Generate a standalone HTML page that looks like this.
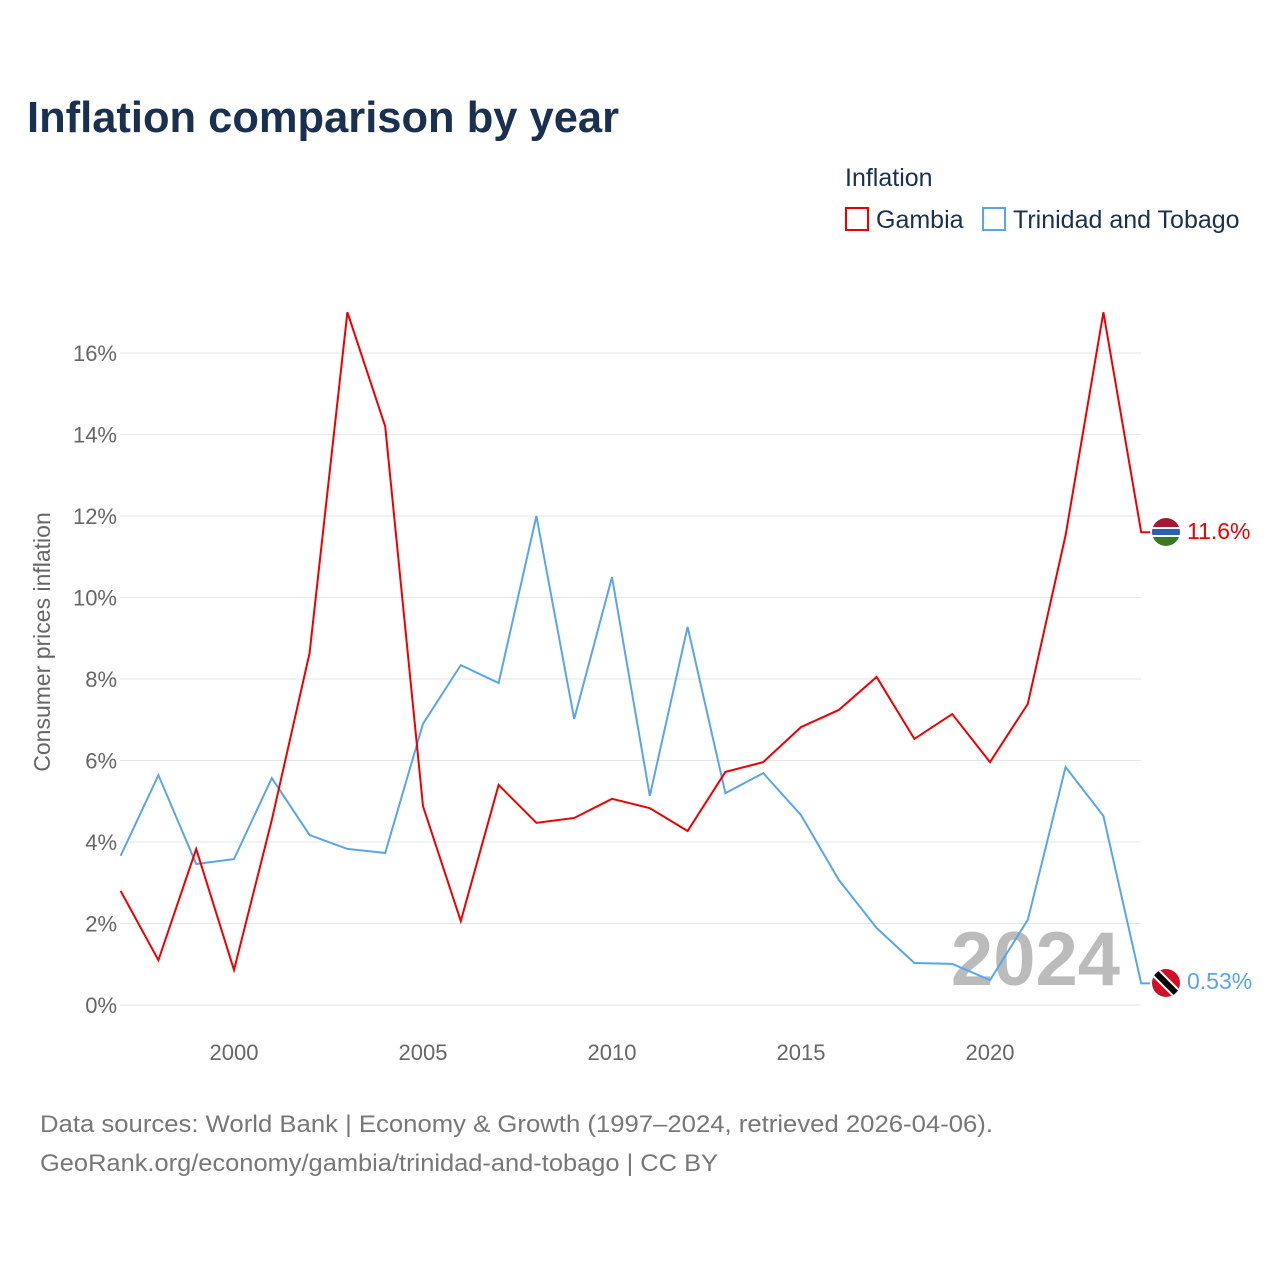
<!DOCTYPE html>
<html><head><meta charset="utf-8"><style>
body{margin:0;background:#fff;font-family:"Liberation Sans",sans-serif;}
</style></head><body>
<svg width="1280" height="1280" xmlns="http://www.w3.org/2000/svg" font-family="Liberation Sans, sans-serif">
<text x="27" y="132" font-size="44" font-weight="bold" fill="#1a3050" textLength="592" lengthAdjust="spacingAndGlyphs">Inflation comparison by year</text>
<text x="845" y="186" font-size="25" fill="#1a3050">Inflation</text>
<g><rect x="846" y="208" width="22" height="22" fill="#fff" stroke="#e00" stroke-width="2"/><text x="876" y="228" font-size="25" fill="#1a3050">Gambia</text></g>
<g><rect x="983" y="208" width="22" height="22" fill="#fff" stroke="#5aa5ea" stroke-width="2"/><text x="1013" y="228" font-size="25" fill="#1a3050">Trinidad and Tobago</text></g>
<g id="grid"></g><g id="yt"></g><g id="xt"></g>
<text transform="translate(50,642) rotate(-90)" text-anchor="middle" font-size="23" fill="#666">Consumer prices inflation</text>
<text x="1120" y="985" text-anchor="end" font-size="76" font-weight="bold" fill="#bbb">2024</text>
<g id="lines"></g>
<g><clipPath id="cg"><circle cx="1166" cy="532" r="14"/></clipPath><g clip-path="url(#cg)"><rect x="1150" y="516" width="32" height="11" fill="#a51931"/><rect x="1150" y="527" width="32" height="10" fill="#fff"/><rect x="1150" y="529" width="32" height="6" fill="#2b5fb4"/><rect x="1150" y="537" width="32" height="12" fill="#3a7728"/></g></g>
<g><clipPath id="ct"><circle cx="1166" cy="983" r="14"/></clipPath><g clip-path="url(#ct)"><rect x="1150" y="967" width="32" height="32" fill="#ce1126"/><line x1="1154" y1="971" x2="1178" y2="995" stroke="#fff" stroke-width="10"/><line x1="1154" y1="971" x2="1178" y2="995" stroke="#000" stroke-width="6"/></g></g>
<text x="1187" y="539" font-size="23" fill="#e00">11.6%</text>
<text x="1187" y="989" font-size="23" fill="#5aa5ea">0.53%</text>
<text x="40" y="1132" font-size="24" fill="#777" textLength="953" lengthAdjust="spacingAndGlyphs">Data sources: World Bank | Economy &amp; Growth (1997–2024, retrieved 2026-04-06).</text>
<text x="40" y="1171" font-size="24" fill="#777" textLength="678" lengthAdjust="spacingAndGlyphs">GeoRank.org/economy/gambia/trinidad-and-tobago | CC BY</text>
</svg>
<script>
const years=[1997,1998,1999,2000,2001,2002,2003,2004,2005,2006,2007,2008,2009,2010,2011,2012,2013,2014,2015,2016,2017,2018,2019,2020,2021,2022,2023,2024];
const gambia=[2.80,1.10,3.83,0.86,4.54,8.64,17.0,14.2,4.88,2.06,5.40,4.47,4.59,5.06,4.83,4.27,5.72,5.96,6.82,7.24,8.05,6.53,7.14,5.96,7.39,11.53,17.0,11.6];
const trinidad=[3.66,5.64,3.46,3.58,5.57,4.17,3.83,3.73,6.90,8.34,7.90,12.0,7.02,10.5,5.13,9.28,5.20,5.69,4.66,3.07,1.89,1.03,1.01,0.61,2.09,5.84,4.64,0.53];
const yTicks=[0,2,4,6,8,10,12,14,16];
const xTicks=[2000,2005,2010,2015,2020];
const NS="http://www.w3.org/2000/svg";
const X=v=>234+(v-2000)*37.8, Y=v=>1005-v*40.75;
function mk(t,a,p){const e=document.createElementNS(NS,t);for(const k in a)e.setAttribute(k,a[k]);document.getElementById(p).appendChild(e);return e;}
yTicks.forEach(t=>{
 const g=mk('line',{x1:120,x2:1141,y1:Y(t),y2:Y(t),stroke:'#e6e6e6','stroke-width':1},'grid');
 
 
 const l=mk('text',{x:117,y:Y(t)+8,'text-anchor':'end','font-size':22,fill:'#666'},'yt');l.textContent=t+'%';
 
 
});
xTicks.forEach(t=>{
 const l=mk('text',{x:X(t),y:1060,'text-anchor':'middle','font-size':22,fill:'#666'},'xt');l.textContent=t;
 
 
});
function line(d,c,n){
 let pts=d.map((v,i)=>X(years[i])+','+Y(v));
 pts.push((X(years[years.length-1])+9)+','+Y(d[d.length-1]));
 const p=mk('polyline',{points:pts.join(' '),fill:'none',stroke:c,'stroke-width':2,'stroke-linejoin':'miter'},'lines');
 
 
}
line(trinidad,'#5aa5ea','series-trinidad');
line(gambia,'#e00','series-gambia');
</script>
</body></html>
